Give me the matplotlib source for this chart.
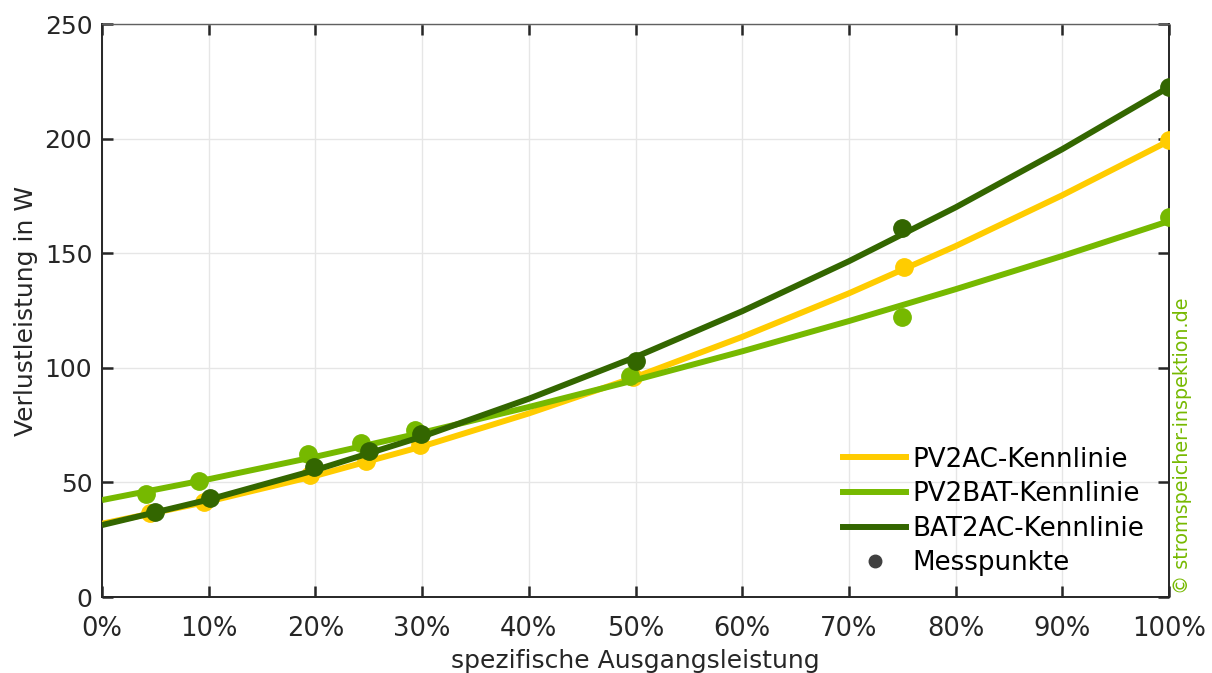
import numpy as np
import matplotlib.pyplot as plt
from matplotlib.lines import Line2D

curve_x = [0, 10, 20, 30, 40, 50, 60, 70, 80, 90, 100]
pv2ac_curve = [32.0, 41.7, 52.9, 65.7, 80.1, 96.0, 113.5, 132.5, 153.1, 175.3, 199.0]
pv2bat_curve = [42.3, 51.4, 61.2, 71.7, 82.9, 94.7, 107.2, 120.4, 134.3, 148.8, 164.0]
bat2ac_curve = [31.4, 42.5, 55.4, 70.0, 86.5, 104.7, 124.7, 146.5, 170.0, 195.4, 222.5]

# Messpunkte
pv2ac_x = [4.5, 9.6, 19.5, 24.7, 29.8, 49.8, 75.2, 100]
pv2ac_y = [36.6, 41.5, 53.2, 59.3, 66.3, 96.0, 144.0, 199.4]
pv2bat_x = [4.1, 9.1, 19.3, 24.3, 29.3, 49.5, 75.0, 100]
pv2bat_y = [45.0, 50.6, 62.2, 67.2, 72.8, 96.4, 122.2, 165.6]
bat2ac_x = [5.0, 10.1, 19.9, 25.0, 29.9, 50.0, 75.0, 100]
bat2ac_y = [37.0, 43.2, 56.7, 63.8, 71.3, 103.0, 161.2, 222.5]

c_yellow = '#FFCC00'
c_light = '#76B900'
c_dark = '#336600'
c_axis = '#262626'

plt.rcParams['font.family'] = ['DejaVu Sans']
plt.rcParams['font.size'] = 18

fig = plt.figure(figsize=(12.12, 6.73), dpi=100)
ax = fig.add_axes([0.0842, 0.1129, 0.8803, 0.8514])

lw = 4.3
ms = 12.5
ax.plot(curve_x, pv2ac_curve, color=c_yellow, lw=lw, zorder=3, solid_capstyle='butt')
ax.plot(pv2ac_x, pv2ac_y, 'o', color=c_yellow, ms=ms, zorder=3)
ax.plot(curve_x, pv2bat_curve, color=c_light, lw=lw, zorder=4, solid_capstyle='butt')
ax.plot(pv2bat_x, pv2bat_y, 'o', color=c_light, ms=ms, zorder=4)
ax.plot(curve_x, bat2ac_curve, color=c_dark, lw=lw, zorder=5, solid_capstyle='butt')
ax.plot(bat2ac_x, bat2ac_y, 'o', color=c_dark, ms=ms, zorder=5)

ax.set_xlim(0, 100)
ax.set_ylim(0, 250)
ax.set_xticks(np.arange(0, 101, 10))
ax.set_xticklabels([f'{v}%' for v in range(0, 101, 10)])
ax.set_yticks(np.arange(0, 251, 50))
ax.grid(True, color='#e6e6e6', lw=1.0)
ax.set_axisbelow(True)
for s in ax.spines.values():
    s.set_color(c_axis)
    s.set_linewidth(1.4)
ax.spines['top'].set_color('#606060')
ax.spines['top'].set_linewidth(1.0)
ax.tick_params(direction='in', length=8, width=1.8, colors=c_axis,
               top=True, right=True, labelcolor=c_axis)
ax.tick_params(axis='x', pad=14, labelsize=18.5)
ax.tick_params(axis='y', pad=7, labelsize=18)

ax.set_xlabel('spezifische Ausgangsleistung', color=c_axis, labelpad=5, fontsize=18)
ax.set_ylabel('Verlustleistung in W', color=c_axis, labelpad=5, fontsize=18)

handles = [
    Line2D([], [], color=c_yellow, lw=lw),
    Line2D([], [], color=c_light, lw=lw),
    Line2D([], [], color=c_dark, lw=lw),
    Line2D([], [], color='#404040', marker='o', ls='none', ms=9),
]
labels = ['PV2AC-Kennlinie', 'PV2BAT-Kennlinie', 'BAT2AC-Kennlinie', 'Messpunkte']
ax.legend(handles, labels, loc='lower right', frameon=False, fontsize=18.8,
          handlelength=2.4, handletextpad=0.25, labelspacing=0.33,
          bbox_to_anchor=(0.999, -0.005))

fig.text(0.976, 0.117, '\u00a9 stromspeicher-inspektion.de', rotation=90,
         color=c_light, fontsize=13.8, ha='center', va='bottom')

fig.savefig('out.png', dpi=100)
